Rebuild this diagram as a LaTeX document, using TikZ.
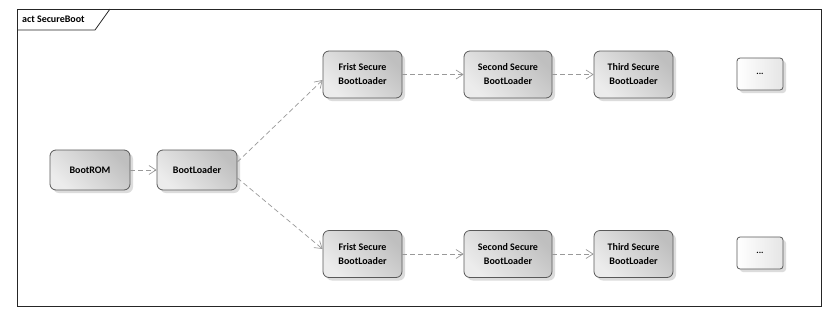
\documentclass[tikz,border=0pt]{standalone}
\usepackage{fontspec}
\setmainfont{Carlito}
\usetikzlibrary{arrows.meta,shadows}
\begin{document}
\begin{tikzpicture}[x=1pt,y=-1pt,
  act/.style={draw=black!65,rounded corners=6pt,line width=0.8pt,
    top color=gray!15,bottom color=gray!50,shading angle=135,
    drop shadow={shadow xshift=3pt,shadow yshift=-3pt,fill=gray!45,opacity=0.6},
    align=center,font=\bfseries\fontsize{10}{14}\selectfont,inner sep=0pt},
  endbox/.style={draw=black!65,rounded corners=3pt,line width=0.8pt,
    left color=white,right color=gray!20,
    drop shadow={shadow xshift=3pt,shadow yshift=-3pt,fill=gray!45,opacity=0.6},
    font=\bfseries\fontsize{9}{10}\selectfont,minimum width=46pt,minimum height=32pt},
  flow/.style={draw=gray!80,dashed,dash pattern=on 5pt off 3pt,line width=0.7pt,
    -{Straight Barb[length=7pt,width=9pt,line width=0.7pt]}}
]
\useasboundingbox (0,0) rectangle (825,317);
\fill[white] (0,0) rectangle (825,317);
% frame
\draw[black!85,line width=0.8pt] (17,9) rectangle (821,306);
\draw[black!85,line width=0.8pt] (17,30) -- (95,30) -- (110,9);
\node[anchor=west,font=\bfseries\fontsize{10}{12}\selectfont,inner sep=0pt] (title) at (22,19.5) {act SecureBoot};
% nodes
\node[act,minimum width=80pt,minimum height=40pt] (rom) at (90,170) {BootROM};
\node[act,minimum width=80pt,minimum height=40pt] (bl) at (197,170) {BootLoader};
\node[act,minimum width=79pt,minimum height=47pt] (f1) at (362.5,74.5) {Frist Secure\\BootLoader};
\node[act,minimum width=88pt,minimum height=47pt] (s1) at (508,74.5) {Second Secure\\BootLoader};
\node[act,minimum width=79pt,minimum height=47pt] (t1) at (633.5,74.5) {Third Secure\\BootLoader};
\node[endbox] (e1) at (760,74) {...};
\node[act,minimum width=79pt,minimum height=47pt] (f2) at (362.5,254) {Frist Secure\\BootLoader};
\node[act,minimum width=88pt,minimum height=47pt] (s2) at (508,254) {Second Secure\\BootLoader};
\node[act,minimum width=79pt,minimum height=47pt] (t2) at (633.5,254) {Third Secure\\BootLoader};
\node[endbox] (e2) at (760,253) {...};
% connectors
\draw[flow] (rom) -- (bl);
\draw[flow] (bl.east) ++(0,-8) coordinate (bla) -- (f1.west |- 0,80) coordinate (f1a);
\draw[flow] (bl.east) ++(0,8) coordinate (blb) -- (f2.west |- 0,249) coordinate (f2a);
\draw[flow] (f1) -- (s1);
\draw[flow] (s1) -- (t1);
\draw[flow] (f2) -- (s2);
\draw[flow] (s2) -- (t2);
\end{tikzpicture}
\end{document}
